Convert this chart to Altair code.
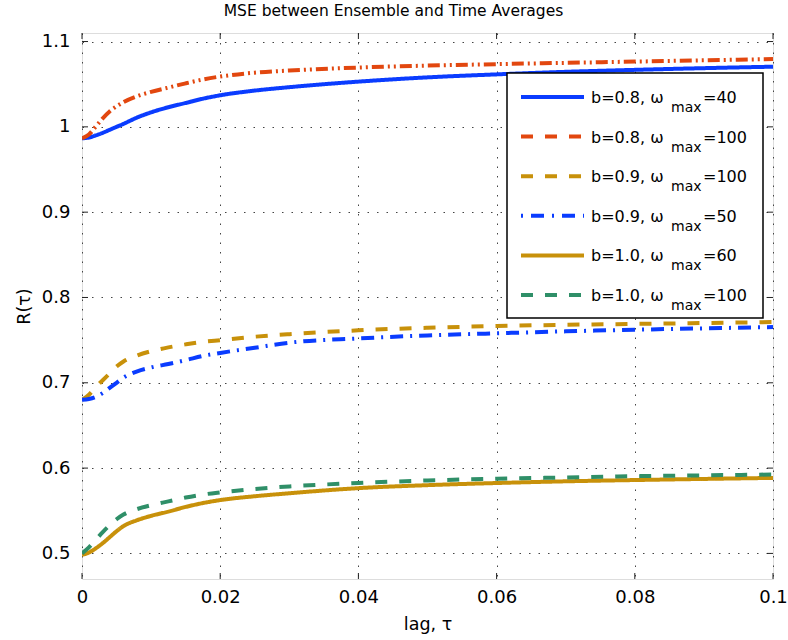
import altair as alt
import pandas as pd

tau = [0, 0.001, 0.002, 0.003, 0.004, 0.005, 0.006, 0.008, 0.01, 0.0125, 0.015,
       0.0175, 0.02, 0.025, 0.03, 0.04, 0.05, 0.06, 0.07, 0.08, 0.09, 0.1]

r_b08_w40 = [0.9865, 0.9875, 0.9900, 0.9930, 0.9965, 1.0000, 1.0035, 1.0110, 1.0170, 1.0230, 1.0280,
             1.0330, 1.0370, 1.0425, 1.0465, 1.0530, 1.0580, 1.0615, 1.0645, 1.0668, 1.0688, 1.0705]
r_b08_w100 = [0.9865, 0.9910, 1.0005, 1.0100, 1.0180, 1.0240, 1.0290, 1.0360, 1.0410, 1.0460, 1.0510,
              1.0555, 1.0590, 1.0635, 1.0660, 1.0695, 1.0718, 1.0735, 1.0750, 1.0765, 1.0780, 1.0795]
r_b09_w100 = [0.680, 0.686, 0.695, 0.703, 0.711, 0.719, 0.725, 0.732, 0.737, 0.7415, 0.745,
              0.748, 0.750, 0.754, 0.757, 0.7615, 0.7645, 0.7665, 0.768, 0.769, 0.770, 0.7712]
r_b09_w50 = [0.680, 0.681, 0.6835, 0.688, 0.694, 0.700, 0.706, 0.7135, 0.718, 0.722, 0.7265,
             0.7315, 0.735, 0.741, 0.747, 0.752, 0.7555, 0.758, 0.7603, 0.7622, 0.7638, 0.7653]
r_b10_w60 = [0.4985, 0.501, 0.506, 0.512, 0.519, 0.526, 0.532, 0.539, 0.544, 0.549, 0.5545,
             0.559, 0.5625, 0.567, 0.5705, 0.5765, 0.580, 0.5825, 0.5845, 0.586, 0.5873, 0.5885]
r_b10_w100 = [0.500, 0.507, 0.516, 0.525, 0.533, 0.540, 0.5455, 0.552, 0.5565, 0.561, 0.5655,
              0.569, 0.5715, 0.5755, 0.5785, 0.5825, 0.5855, 0.5875, 0.589, 0.5905, 0.5915, 0.5925]

series_b = ["b=0.8", "b=0.8", "b=0.9", "b=0.9", "b=1.0", "b=1.0"]
series_w = ["40", "100", "100", "50", "60", "100"]
series_vals = [r_b08_w40, r_b08_w100, r_b09_w100, r_b09_w50, r_b10_w60, r_b10_w100]
series_colors = ["#0a3cff", "#e2470f", "#c8910a", "#0a3cff", "#c8910a", "#2f8f68"]
series_dash = [[1, 0], [12, 4, 2, 4, 2, 4], [12, 12], [13, 7, 2, 7], [1, 0], [12, 12]]
legend_dash = [[1, 0], [12, 12], [12, 12], [2, 8, 13, 8], [1, 0], [12, 12]]

x_ticks = [0, 0.02, 0.04, 0.06, 0.08, 0.1]
y_ticks = [0.5, 0.6, 0.7, 0.8, 0.9, 1.0, 1.1]

XDOM = [0, 0.1]
YDOM = [0.47, 1.11]
W, H = 691, 546
FONT = "DejaVu Sans"

xs = alt.Scale(domain=XDOM, nice=False, zero=False)
ys = alt.Scale(domain=YDOM, nice=False, zero=False)

layers = []

# grid / axes layer
base = alt.Chart(pd.DataFrame({"t": [0.0], "r": [0.5]})).mark_point(opacity=0).encode(
    x=alt.X("t:Q", scale=xs, title="lag, τ",
            axis=alt.Axis(values=x_ticks, format=".2~f", grid=True, ticks=False, domain=False,
                          labelFlush=False,
                          labelFontSize=18, labelFont=FONT, labelColor="#000", labelPadding=9,
                          titleFontSize=17.5, titleFont=FONT, titleFontWeight="normal",
                          titleColor="#000", titlePadding=9,
                          gridDash=[1.5, 8], gridColor="#444", gridOpacity=1, gridWidth=1)),
    y=alt.Y("r:Q", scale=ys, title="R(τ)",
            axis=alt.Axis(values=y_ticks, format=".2~f", grid=True, ticks=False, domain=False,
                          labelFlush=False,
                          labelFontSize=18, labelFont=FONT, labelColor="#000", labelPadding=12,
                          titleFontSize=17.5, titleFont=FONT, titleFontWeight="normal",
                          titleColor="#000", titlePadding=8,
                          gridDash=[1.5, 8], gridColor="#444", gridOpacity=1, gridWidth=1)),
)
layers.append(base)

# inside tick marks built from tick values
tx = 6 * (XDOM[1] - XDOM[0]) / W
ty = 6 * (YDOM[1] - YDOM[0]) / H
ytick_df = pd.DataFrame({"v": y_ticks})
xtick_df = pd.DataFrame({"v": x_ticks})
for x0, x1 in [(XDOM[0], XDOM[0] + tx), (XDOM[1] - tx, XDOM[1])]:
    layers.append(alt.Chart(ytick_df).mark_rule(color="#222", strokeWidth=1).encode(
        y=alt.Y("v:Q", scale=ys), x=alt.datum(x0, scale=xs), x2=alt.datum(x1)))
for y0, y1 in [(YDOM[0], YDOM[0] + ty), (YDOM[1] - ty, YDOM[1])]:
    layers.append(alt.Chart(xtick_df).mark_rule(color="#222", strokeWidth=1).encode(
        x=alt.X("v:Q", scale=xs), y=alt.datum(y0, scale=ys), y2=alt.datum(y1)))

# data lines
for i in range(6):
    df = pd.DataFrame({"t": tau, "r": series_vals[i]})
    layers.append(alt.Chart(df).mark_line(
        color=series_colors[i], strokeWidth=4, strokeDash=series_dash[i],
        interpolate="monotone", clip=True).encode(
        x=alt.X("t:Q", scale=xs), y=alt.Y("r:Q", scale=ys)))

# legend box
one = pd.DataFrame({"a": [0]})
layers.append(alt.Chart(one).mark_rect(fill="white", stroke="black", strokeWidth=1.5).encode(
    x=alt.value(425), x2=alt.value(681), y=alt.value(40), y2=alt.value(285)))
for i in range(6):
    cy = 64 + 39.6 * i
    layers.append(alt.Chart(one).mark_rule(
        color=series_colors[i], strokeWidth=4, strokeDash=legend_dash[i]).encode(
        x=alt.value(439), x2=alt.value(502), y=alt.value(cy)))
    layers.append(alt.Chart(one).mark_text(
        text=series_b[i] + ", ω", font=FONT, fontSize=16, align="left", baseline="alphabetic",
        color="#000").encode(x=alt.value(509), y=alt.value(cy + 6)))
    layers.append(alt.Chart(one).mark_text(
        text="max", font=FONT, fontSize=14, align="left", baseline="alphabetic",
        color="#000").encode(x=alt.value(589), y=alt.value(cy + 15)))
    layers.append(alt.Chart(one).mark_text(
        text="=" + series_w[i], font=FONT, fontSize=16, align="left", baseline="alphabetic",
        color="#000").encode(x=alt.value(621), y=alt.value(cy + 6)))

chart = alt.layer(*layers).properties(
    width=W, height=H,
    title=alt.TitleParams("MSE between Ensemble and Time Averages", fontSize=15.5, font=FONT,
                          fontWeight="normal", color="#000", offset=13, anchor="middle", dx=-34),
    autosize=alt.AutoSizeParams(type="none"),
    padding={"left": 82, "top": 33, "right": 15, "bottom": 61},
).configure_view(stroke="black", strokeWidth=1).configure(background="white")

chart.save("out.html", embed_options={"renderer": "svg", "actions": False})
